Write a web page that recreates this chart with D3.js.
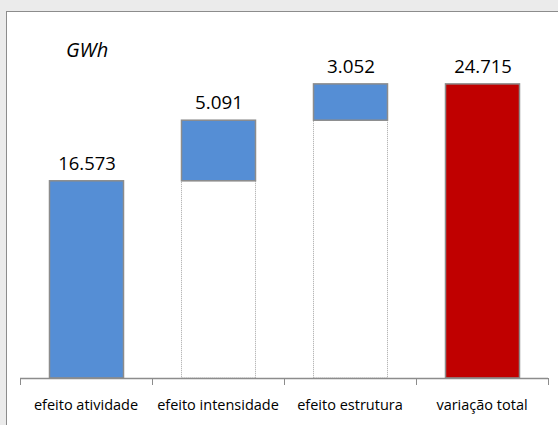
<!DOCTYPE html>
<html>
<head>
<meta charset="utf-8">
<script src="https://cdn.jsdelivr.net/npm/d3@7"></script>
<style>
  body { margin: 0; background: #ebebeb; }
  svg { display: block; }
</style>
</head>
<body>
<svg id="chart" width="558" height="425"></svg>
<script>
"use strict"

// waterfall: three effects stacked, then the total
var categories = ["efeito atividade", "efeito intensidade", "efeito estrutura", "variação total"];
var values = [16.573, 5.091, 3.052, 24.715];
var labels = ["16.573", "5.091", "3.052", "24.715"];
var isTotal = [false, false, false, true];

var W = 558, H = 425;
var svg = d3.select("#chart");

// white chart area with grey frame (cropped at right/bottom)
svg.append("rect")
    .attr("x", 6.5).attr("y", 11.5)
    .attr("width", W).attr("height", H)
    .attr("fill", "#ffffff")
    .attr("stroke", "#8c8c8c")
    .attr("stroke-width", 1);

var x = d3.scaleBand().domain(categories).range([20, 548]).paddingInner(0).paddingOuter(0);
var y = d3.scaleLinear().domain([0, 30]).range([378, 21]);
var barW = 74;

// running base for each step
var bases = [];
var acc = 0;
values.forEach(function(v, i) {
    if (isTotal[i]) { bases.push(0); }
    else { bases.push(acc); acc += v; }
});

var g = svg.append("g");

// invisible base bars, dotted outline
g.selectAll(".base")
    .data(categories.filter(function(d, i) { return bases[i] > 0; }))
    .enter().append("rect")
    .attr("class", "base")
    .attr("x", function(d) { return x(d) + (x.bandwidth() - barW) / 2 + 0.5; })
    .attr("y", function(d) { return y(bases[categories.indexOf(d)]); })
    .attr("width", barW)
    .attr("height", function(d) { return y(0) - y(bases[categories.indexOf(d)]); })
    .attr("fill", "#ffffff")
    .attr("stroke", "#a6a6a6")
    .attr("stroke-width", 1)
    .attr("stroke-dasharray", "1,1");

// visible bars
g.selectAll(".bar")
    .data(categories)
    .enter().append("rect")
    .attr("class", "bar")
    .attr("x", function(d) { return x(d) + (x.bandwidth() - barW) / 2 + 0.5; })
    .attr("y", function(d, i) { return y(bases[i] + values[i]); })
    .attr("width", barW)
    .attr("height", function(d, i) { return y(bases[i]) - y(bases[i] + values[i]); })
    .attr("fill", function(d, i) { return isTotal[i] ? "#c00000" : "#558ed5"; })
    .attr("stroke", "#8c8c8c")
    .attr("stroke-width", 1.5);

// value labels (narrowed to mimic the condensed original face)
g.selectAll(".val")
    .data(categories)
    .enter().append("text")
    .attr("class", "val")
    .attr("x", function(d) { return x(d) + x.bandwidth() / 2 + 1; })
    .attr("y", function(d, i) { return y(bases[i] + values[i]) - 11; })
    .attr("text-anchor", "middle")
    .attr("font-family", "Open Sans, sans-serif")
    .attr("font-size", 17.5)
    .attr("fill", "#000")
    .attr("textLength", function(d, i) { return labels[i].length * 9.6; })
    .attr("lengthAdjust", "spacingAndGlyphs")
    .text(function(d, i) { return labels[i]; });

// category axis
var axis = svg.append("g")
    .attr("transform", "translate(0," + 378 + ")");

axis.append("line")
    .attr("x1", x.range()[0]).attr("x2", x.range()[1])
    .attr("y1", 0.5).attr("y2", 0.5)
    .attr("stroke", "#8c8c8c").attr("stroke-width", 1.5);

var tickX = categories.map(function(d) { return x(d); }).concat([x.range()[1]]);
axis.selectAll(".tick")
    .data(tickX)
    .enter().append("line")
    .attr("x1", function(d) { return d + 0.5; })
    .attr("x2", function(d) { return d + 0.5; })
    .attr("y1", 0).attr("y2", 7)
    .attr("stroke", "#8c8c8c").attr("stroke-width", 1);

axis.selectAll(".cat")
    .data(categories)
    .enter().append("text")
    .attr("class", "cat")
    .attr("x", function(d) { return x(d) + x.bandwidth() / 2; })
    .attr("y", 32)
    .attr("text-anchor", "middle")
    .attr("font-family", "Open Sans, sans-serif")
    .attr("font-size", 14.5)
    .attr("fill", "#000")
    .text(function(d) { return d; });

// unit label
svg.append("text")
    .attr("x", 66).attr("y", 57)
    .attr("font-family", "Open Sans, sans-serif")
    .attr("font-style", "italic")
    .attr("font-size", 20)
    .attr("fill", "#000")
    .text("GWh");

</script>
</body>
</html>
